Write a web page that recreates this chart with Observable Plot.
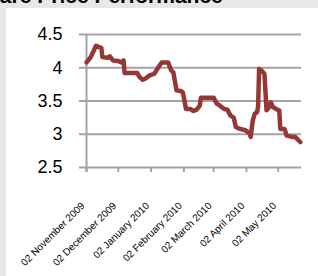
<!DOCTYPE html>
<html>
<head>
<meta charset="utf-8">
<script src="https://cdn.jsdelivr.net/npm/d3@7"></script>
<script src="https://cdn.jsdelivr.net/npm/@observablehq/plot@0.6"></script>
<style>
  html, body { margin: 0; padding: 0; }
  body { width: 318px; height: 276px; background: #e8e8e8; position: relative; overflow: hidden; font-family: "Liberation Sans", Arial, sans-serif; }
  #title { position: absolute; left: -27px; top: -15px; font: bold 21px/21px "Liberation Sans", Arial, sans-serif; color: #000; white-space: nowrap; }
  #chart { position: absolute; left: 6px; top: 8px; width: 312px; height: 268px; background: #fff; }
</style>
</head>
<body>
<div id="title">Share Price Performance</div>
<div id="chart"></div>
<script>
const dates = [
  "2009-11-02","2009-11-06","2009-11-11","2009-11-14","2009-11-16","2009-11-17","2009-11-22","2009-11-24","2009-11-27",
  "2009-12-02","2009-12-05","2009-12-07","2009-12-08","2009-12-14","2009-12-20","2009-12-22","2009-12-25","2009-12-28","2009-12-31",
  "2010-01-05","2010-01-09","2010-01-12","2010-01-18","2010-01-21","2010-01-23","2010-01-26","2010-01-30",
  "2010-02-01","2010-02-04","2010-02-08","2010-02-11","2010-02-14","2010-02-17","2010-02-18","2010-02-24",
  "2010-03-02","2010-03-05","2010-03-08","2010-03-12","2010-03-15","2010-03-18","2010-03-21","2010-03-23","2010-03-27",
  "2010-04-01","2010-04-05","2010-04-06","2010-04-08","2010-04-10","2010-04-12","2010-04-13","2010-04-14","2010-04-16","2010-04-19","2010-04-21","2010-04-23","2010-04-25","2010-04-27",
  "2010-05-01","2010-05-03","2010-05-04","2010-05-08","2010-05-10","2010-05-15","2010-05-18","2010-05-23"
];
const prices = [
  4.08,4.16,4.33,4.31,4.30,4.16,4.15,4.17,4.11,
  4.10,4.08,4.11,3.92,3.92,3.92,3.86,3.82,3.84,3.88,
  3.91,4.01,4.08,4.08,3.96,3.93,3.66,3.65,
  3.63,3.38,3.38,3.35,3.37,3.43,3.55,3.55,
  3.55,3.46,3.43,3.38,3.37,3.28,3.25,3.11,3.08,
  3.06,3.01,2.96,3.21,3.31,3.33,3.41,3.98,3.96,3.91,3.36,3.40,3.48,3.41,
  3.37,3.36,3.08,3.08,2.98,2.96,2.96,2.88
];
const xTickDates = ["2009-11-02","2009-12-02","2010-01-02","2010-02-02","2010-03-02","2010-04-02","2010-05-02"];
const xTickLabels = ["02 November 2009","02 December 2009","02 January 2010","02 February 2010","02 March 2010","02 April 2010","02 May 2010"];
const yTicks = [2.5, 3, 3.5, 4, 4.5];
const yTickLabels = ["2.5", "3", "3.5", "4", "4.5"];

const parse = d3.utcParse("%Y-%m-%d");
const data = dates.map((d, i) => ({date: parse(d), price: prices[i]}));
const xTicks = xTickDates.map(parse);
const gray = "#a3a3a3";
const font = "'Liberation Sans', Arial, sans-serif";

const plot = Plot.plot({
  width: 312,
  height: 268,
  marginLeft: 80,
  marginRight: 17,
  marginTop: 26,
  marginBottom: 109,
  style: {background: "transparent", fontFamily: font, overflow: "visible"},
  x: {type: "utc", domain: [parse("2009-11-02"), parse("2010-05-24")], label: null},
  y: {domain: [2.5, 4.5], label: null},
  marks: [
    Plot.ruleY(yTicks, {stroke: gray, strokeWidth: 2, insetLeft: -7}),
    Plot.ruleX([parse("2009-11-02")], {stroke: gray, strokeWidth: 2, insetBottom: -5}),
    Plot.axisX({ticks: xTicks, tickSize: 5, tickFormat: () => "", stroke: gray, strokeWidth: 2, label: null}),
    Plot.axisX({ticks: xTicks, tickSize: 0, tickPadding: 27, tickRotate: -45,
      tickFormat: (d, i) => xTickLabels[i], fontSize: 10, fill: "#000", dx: -3.5, dy: 9.5, label: null}),
    Plot.axisY({ticks: yTicks, tickSize: 0, tickPadding: 24,
      tickFormat: (d, i) => yTickLabels[i], fontSize: 18, fill: "#000", label: null}),
    Plot.line(data, {x: "date", y: "price", stroke: "#953735", strokeWidth: 4.5, strokeLinejoin: "round", strokeLinecap: "round"})
  ]
});
document.getElementById("chart").appendChild(plot);
</script>
</body>
</html>
